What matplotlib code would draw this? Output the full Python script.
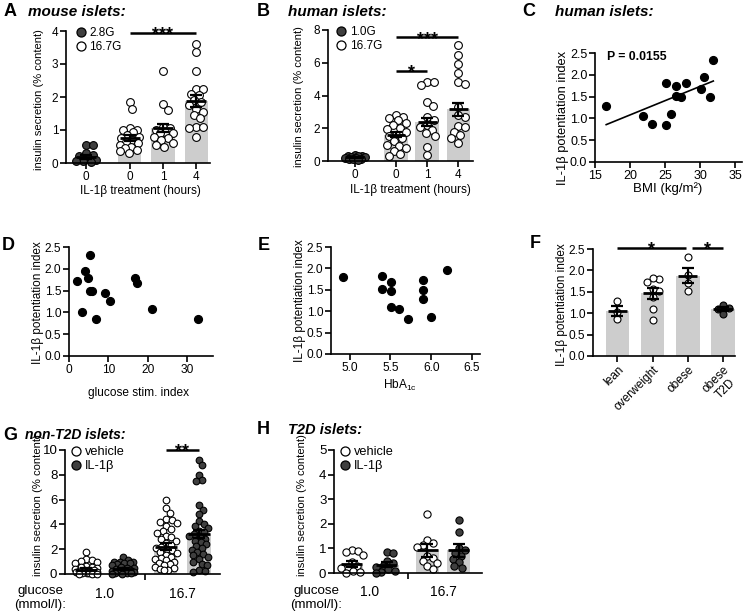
import numpy as np
import matplotlib
matplotlib.use('Agg')
import matplotlib.pyplot as plt
from matplotlib.lines import Line2D

plt.rcParams['font.family'] = ['Liberation Sans', 'DejaVu Sans']
plt.rcParams['mathtext.fontset'] = 'custom'
plt.rcParams['mathtext.rm'] = 'Liberation Sans'
plt.rcParams['mathtext.it'] = 'Liberation Sans:italic'
plt.rcParams['mathtext.bf'] = 'Liberation Sans:bold'

# ---------------- DATA ----------------
# Panel A: mouse islets
A_labels = ['0', '0', '1', '4']
A_filled = [True, False, False, False]
A_mean = [0.18, 0.76, 1.07, 1.88]
A_sem = [0.07, 0.09, 0.12, 0.18]
A_dark0 = [0.55, 0.55, 0.3, 0.25, 0.2, 0.15, 0.1, 0.05, 0.05, 0.02]
A_open0 = [1.85, 1.65, 1.05, 1.0, 1.0, 0.95, 0.85, 0.8, 0.75, 0.7, 0.65, 0.6, 0.55, 0.5, 0.45, 0.4, 0.35, 0.3]
A_open1 = [2.8, 1.78, 1.62, 1.1, 1.05, 1.0, 0.95, 0.9, 0.9, 0.8, 0.75, 0.7, 0.6, 0.55, 0.5]
A_open4 = [3.62, 3.35, 2.78, 2.25, 2.25, 2.1, 2.05, 1.9, 1.85, 1.75, 1.65, 1.55, 1.45, 1.35, 1.1, 1.1, 1.05, 0.8]
A_legend = ['2.8G', '16.7G']

# Panel B: human islets
B_labels = ['0', '0', '1', '4']
B_filled = [True, False, False, False]
B_mean = [0.22, 1.6, 2.4, 3.15]
B_sem = [0.03, 0.15, 0.25, 0.4]
B_dark0 = [0.35, 0.32, 0.3, 0.28, 0.25, 0.22, 0.2, 0.18, 0.15, 0.12, 0.1, 0.08]
B_open0 = [2.8, 2.7, 2.6, 2.5, 2.35, 2.2, 2.0, 1.95, 1.8, 1.6, 1.5, 1.4, 1.2, 1.0, 0.9, 0.8, 0.6, 0.4, 0.3]
B_open1 = [4.85, 4.85, 4.64, 3.6, 3.36, 2.7, 2.5, 2.2, 2.1, 1.9, 1.7, 1.5, 0.88, 0.37]
B_open4 = [7.1, 6.5, 5.95, 5.4, 4.8, 4.7, 3.3, 2.8, 2.7, 2.15, 2.1, 1.8, 1.6, 1.4, 1.1]
B_legend = ['1.0G', '16.7G']

# Panel C: BMI vs IL-1b potentiation index
C_bmi = [16.6, 21.8, 23.1, 25.1, 25.2, 25.8, 26.5, 26.5, 27.3, 28.0, 30.1, 30.5, 31.4, 31.9]
C_idx = [1.29, 1.05, 0.87, 1.81, 0.84, 1.10, 1.74, 1.52, 1.49, 1.81, 1.68, 1.95, 1.50, 2.33]
C_ptext = 'P = 0.0155'

# Panel D: glucose stim index vs potentiation index
D_gsi = [2.0, 3.4, 4.0, 4.7, 5.3, 5.2, 5.9, 6.8, 9.0, 10.5, 16.7, 17.2, 21.0, 32.7]
D_idx = [1.72, 1.02, 1.94, 1.79, 2.32, 1.49, 1.49, 0.85, 1.45, 1.26, 1.80, 1.67, 1.08, 0.84]

# Panel E: HbA1c vs potentiation index
E_hba = [4.92, 5.40, 5.40, 5.51, 5.51, 5.51, 5.61, 5.71, 5.90, 5.90, 5.90, 6.00, 6.20]
E_idx = [1.81, 1.82, 1.52, 1.69, 1.48, 1.10, 1.04, 0.81, 1.74, 1.50, 1.28, 0.86, 1.96]

# Panel F: BMI categories
F_labels = ['lean', 'overweight', 'obese', 'obese\nT2D']
F_filled = [False, False, False, True]
F_mean = [1.05, 1.47, 1.88, 1.10]
F_sem = [0.12, 0.13, 0.17, 0.04]
F_lean = [1.29, 0.86, 1.03]
F_over = [1.80, 1.83, 1.74, 1.53, 1.56, 1.39, 1.10, 0.84]
F_obese = [2.32, 1.90, 1.52, 1.70]
F_t2d = [1.20, 1.12, 1.10, 0.98]

# Panel G: non-T2D islets
GH_glucose = ['1.0', '16.7']
GH_legend = ['vehicle', 'IL-1β']
GH_filled = [False, True, False, True]
G_mean = [0.35, 0.40, 2.2, 3.25]
G_sem = [0.10, 0.08, 0.27, 0.33]
G_veh1 = [1.8, 1.25, 1.1, 1.05, 0.95, 0.9, 0.65, 0.6, 0.55, 0.5, 0.4, 0.35, 0.3, 0.3, 0.25, 0.2, 0.2, 0.15, 0.1, 0.1, 0.05, 0.05, 0.0, 0.0, 0.0]
G_il1 = [1.4, 1.1, 1.0, 1.0, 0.95, 0.9, 0.85, 0.8, 0.7, 0.6, 0.5, 0.45, 0.4, 0.35, 0.3, 0.25, 0.2, 0.15, 0.1, 0.1, 0.05, 0.0, 0.0]
G_veh16 = [5.95, 5.3, 4.95, 4.4, 4.35, 4.2, 4.15, 3.9, 3.65, 3.5, 3.3, 3.1, 3.0, 2.8, 2.7, 2.5, 2.35, 2.2, 2.1, 2.0, 1.9, 1.8, 1.7, 1.55, 1.4, 1.3, 1.2, 1.1, 1.0, 0.9, 0.8, 0.7, 0.6, 0.5, 0.4, 0.35, 0.3]
G_il16 = [9.2, 8.8, 7.95, 7.55, 7.5, 5.55, 5.2, 4.8, 4.25, 4.0, 3.9, 3.7, 3.5, 3.35, 3.2, 3.1, 3.0, 2.85, 2.7, 2.55, 2.4, 2.25, 2.1, 1.95, 1.8, 1.6, 1.5, 1.35, 1.2, 1.0, 0.8, 0.7, 0.3, 0.25, 0.2]

# Panel H: T2D islets
H_mean = [0.36, 0.34, 0.92, 0.92]
H_sem = [0.11, 0.11, 0.25, 0.27]
H_veh1 = [0.95, 0.9, 0.85, 0.75, 0.45, 0.3, 0.25, 0.2, 0.1, 0.05, 0.0]
H_il1 = [0.85, 0.82, 0.5, 0.4, 0.3, 0.25, 0.15, 0.1, 0.05, 0.0]
H_veh16 = [2.39, 1.35, 1.22, 1.15, 1.05, 0.68, 0.6, 0.47, 0.4, 0.27, 0.16]
H_il16 = [2.16, 1.65, 1.01, 0.95, 0.8, 0.68, 0.55, 0.43, 0.27, 0.2]

# ---------------- LAYOUT / STYLE ----------------
W, H = 749, 614
fig = plt.figure(figsize=(W / 100, H / 100), dpi=100)
BAR = '#cdcdcd'
DARK = '#3f3f3f'
LW = 1.2


def add_ax(l, t, r, b):
    return fig.add_axes([l / W, 1 - b / H, (r - l) / W, (b - t) / H])


def style(ax, fs):
    for s in ['top', 'right']:
        ax.spines[s].set_visible(False)
    for s in ['left', 'bottom']:
        ax.spines[s].set_linewidth(LW)
    ax.tick_params(direction='out', length=4, width=LW, labelsize=fs, pad=1.5)


def ftext(x, y, s, **kw):
    kw.setdefault('ha', 'center')
    kw.setdefault('va', 'center')
    kw.setdefault('fontsize', 8.5)
    fig.text(x / W, 1 - y / H, s, **kw)


def panel(x, y, letter, title=None, tx=None, tfs=11):
    ftext(x, y, letter, ha='left', fontsize=13, fontweight='bold')
    if title:
        ftext(tx, y, title, ha='left', fontsize=tfs, fontweight='bold', style='italic')


def swarm(ax, values, xc, diam_px, half_w_px):
    tr = ax.transData
    vals = np.asarray(values, float)
    order = np.argsort(-vals)
    xc_px = tr.transform((xc, 0))[0]
    ys_px = tr.transform(np.column_stack([np.full(len(vals), xc), vals]))[:, 1]
    cands = sorted(np.arange(-half_w_px, half_w_px + 0.01, 0.5), key=lambda v: (abs(v), -v))
    placed = []
    xs = np.zeros(len(vals))
    for i in order:
        y = ys_px[i]
        chosen, best, bestd = None, 0.0, -1.0
        for c in cands:
            if not placed:
                chosen = c
                break
            d = min(np.hypot(c - px, y - py) for px, py in placed)
            if d >= diam_px:
                chosen = c
                break
            if d > bestd:
                bestd, best = d, c
        if chosen is None:
            chosen = best
        placed.append((chosen, y))
        xs[i] = xc_px + chosen
    return tr.inverted().transform(np.column_stack([xs, ys_px]))[:, 0]


def bar_dots(ax, pos, means, sems, groups, filled, width, ms, mean_w, cap, diam_px, half_w_px):
    ax.bar(pos, means, width=width, color=BAR, zorder=1)
    for p, vals, f in zip(pos, groups, filled):
        xs = swarm(ax, vals, p, diam_px, half_w_px)
        ax.plot(xs, vals, 'o', ms=ms, mfc=DARK if f else 'white', mec='black', mew=0.8,
                zorder=2, clip_on=False, ls='')
    for p, m, s in zip(pos, means, sems):
        ax.plot([p - mean_w / 2, p + mean_w / 2], [m, m], color='black', lw=2.0, zorder=3,
                solid_capstyle='butt')
        ax.errorbar([p], [m], yerr=[s], fmt='none', ecolor='black', elinewidth=1.6,
                    capsize=cap, capthick=1.6, zorder=3)


def sig(ax, x1, x2, y, text):
    ax.plot([x1, x2], [y, y], color='black', lw=1.8, clip_on=False, solid_capstyle='butt', zorder=4)
    ax.annotate(text, xy=((x1 + x2) / 2, y), xytext=(0, -4.5), textcoords='offset points',
                ha='center', va='baseline', fontsize=13, fontweight='bold', annotation_clip=False)


def legend(ax, labels, fills, anchor, ms=6.5, fs=8.5):
    hs = [Line2D([], [], marker='o', ls='', ms=ms, mfc=DARK if f else 'white', mec='black', mew=0.9)
          for f in fills]
    ax.legend(hs, labels, loc='upper left', bbox_to_anchor=anchor, frameon=False, fontsize=fs,
              handlelength=0.8, handletextpad=0.3, labelspacing=0.15, borderpad=0, borderaxespad=0)


IDX_T = [0, 0.5, 1.0, 1.5, 2.0, 2.5]
IDX_L = ['0.0', '0.5', '1.0', '1.5', '2.0', '2.5']

# ---------------- Panel A ----------------
axA = add_ax(66, 31, 210, 163)
style(axA, 8.5)
A_pos = [0, 1.33, 2.33, 3.33]
axA.set_xlim(-0.6, 3.75)
axA.set_ylim(0, 4)
axA.set_yticks([0, 1, 2, 3, 4])
axA.set_xticks(A_pos, A_labels)
bar_dots(axA, A_pos, A_mean, A_sem, [A_dark0, A_open0, A_open1, A_open4], A_filled,
         0.7, 5.6, 0.6, 4.2, 7.0, 10)
sig(axA, A_pos[1], A_pos[3], 3.94, '***')
legend(axA, A_legend, [True, False], (0.07, 1.03))
ftext(39, 100, 'insulin secretion (% content)', rotation=90, fontsize=8)
ftext(140, 191, 'IL-1β treatment (hours)')
panel(4, 12, 'A', 'mouse islets:', 28)

# ---------------- Panel B ----------------
axB = add_ax(328, 30, 473, 161)
style(axB, 8.5)
B_pos = [0, 1.33, 2.33, 3.33]
axB.set_xlim(-0.85, 3.8)
axB.set_ylim(0, 8)
axB.set_yticks([0, 2, 4, 6, 8])
axB.set_xticks(B_pos, B_labels)
bar_dots(axB, B_pos, B_mean, B_sem, [B_dark0, B_open0, B_open1, B_open4], B_filled,
         0.75, 5.6, 0.6, 4.2, 7.0, 10)
sig(axB, B_pos[1], B_pos[2], 5.5, '*')
sig(axB, B_pos[1], B_pos[3], 7.55, '***')
legend(axB, B_legend, [True, False], (0.06, 1.03))
ftext(299, 97, 'insulin secretion (% content)', rotation=90, fontsize=8)
ftext(410, 190, 'IL-1β treatment (hours)')
panel(257, 12, 'B', 'human islets:', 288)

# ---------------- Panel C ----------------
axC = add_ax(595, 53, 742, 162)
style(axC, 9)
axC.set_xlim(15, 36)
axC.set_ylim(0, 2.5)
axC.set_xticks([15, 20, 25, 30, 35])
axC.set_yticks(IDX_T, IDX_L)
axC.plot(C_bmi, C_idx, 'o', ms=5.6, color='black', ls='', clip_on=False)
k, b0 = np.polyfit(C_bmi, C_idx, 1)
xx = np.array([min(C_bmi), max(C_bmi)])
axC.plot(xx, k * xx + b0, color='black', lw=1.2)
axC.text(0.08, 0.96, C_ptext, transform=axC.transAxes, fontsize=8.8, fontweight='bold',
         ha='left', va='center')
ftext(563, 118, 'IL-1β potentiation index', rotation=90, fontsize=9.3)
ftext(668, 189, 'BMI (kg/m²)', fontsize=9.5)
panel(522, 12, 'C', 'human islets:', 555)

# ---------------- Panel D ----------------
axD = add_ax(69, 247, 213, 356)
style(axD, 8.6)
axD.set_xlim(0, 36.5)
axD.set_ylim(0, 2.5)
axD.set_xticks([0, 10, 20, 30])
axD.set_yticks(IDX_T, IDX_L)
axD.plot(D_gsi, D_idx, 'o', ms=5.6, color='black', ls='', clip_on=False)
ftext(38, 303, 'IL-1β potentiation index', rotation=90)
ftext(139, 393, 'glucose stim. index', fontsize=8.6)
panel(2, 245, 'D')

# ---------------- Panel E ----------------
axE = add_ax(331, 247, 480, 354)
style(axE, 8.6)
axE.set_xlim(4.77, 6.6)
axE.set_ylim(0, 2.5)
axE.set_xticks([5.0, 5.5, 6.0, 6.5], ['5.0', '5.5', '6.0', '6.5'])
axE.set_yticks(IDX_T, IDX_L)
axE.plot(E_hba, E_idx, 'o', ms=5.6, color='black', ls='', clip_on=False)
ftext(300, 301, 'IL-1β potentiation index', rotation=90)
ftext(400, 385, r'HbA$_{\mathrm{1c}}$', fontsize=8.6)
panel(258, 245, 'E')

# ---------------- Panel F ----------------
axF = add_ax(593, 249, 735, 356)
style(axF, 8.6)
F_pos = [0, 1, 2, 3]
axF.set_xlim(-0.69, 3.34)
axF.set_ylim(0, 2.5)
axF.set_yticks(IDX_T, IDX_L)
axF.set_xticks(F_pos)
axF.set_xticklabels(F_labels, rotation=45, ha='right', rotation_mode='anchor', ma='center')
bar_dots(axF, F_pos, F_mean, F_sem, [F_lean, F_over, F_obese, F_t2d], F_filled,
         0.67, 5.0, 0.55, 4.0, 6.5, 10)
sig(axF, F_pos[0], F_pos[2] - 0.05, 2.52, '*')
sig(axF, F_pos[2] + 0.12, F_pos[3], 2.52, '*')
ftext(562, 305, 'IL-1β potentiation index', rotation=90)
panel(530, 243, 'F')


# ---------------- Panels G / H ----------------
def gh_axes(ax, ymax, yticks):
    style(ax, 9.5)
    ax.set_ylim(0, ymax)
    ax.set_yticks(yticks)
    ax.set_xticks([1.6], [''])
    ax.set_xticks([0.5, 2.6], GH_glucose, minor=True)
    ax.tick_params(axis='x', which='minor', length=0, pad=9, labelsize=10)


GH_pos = [0, 1, 2.15, 3.05]

axG = add_ax(65, 450, 220, 574)
axG.set_xlim(-0.57, 3.62)
gh_axes(axG, 10, [0, 2, 4, 6, 8, 10])
bar_dots(axG, GH_pos, G_mean, G_sem, [G_veh1, G_il1, G_veh16, G_il16], GH_filled,
         0.63, 4.8, 0.6, 4.2, 5.6, 11)
sig(axG, GH_pos[2], GH_pos[3], 10.0, '**')
legend(axG, GH_legend, [False, True], (0.04, 1.03), ms=6.5, fs=9.2)
ftext(38, 505, 'insulin secretion (% content)', rotation=90, fontsize=8.1)
ftext(40, 598, 'glucose\n(mmol/l):', fontsize=9.6, linespacing=1.2)
panel(3, 435, 'G', 'non-T2D islets:', 25, tfs=10)

axH = add_ax(334, 450, 482, 573)
axH.set_xlim(-0.51, 3.71)
gh_axes(axH, 5, [0, 1, 2, 3, 4, 5])
bar_dots(axH, GH_pos, H_mean, H_sem, [H_veh1, H_il1, H_veh16, H_il16], GH_filled,
         0.66, 5.2, 0.6, 4.2, 6.3, 11)
legend(axH, GH_legend, [False, True], (0.04, 1.03), ms=6.5, fs=9.2)
ftext(302, 505, 'insulin secretion (% content)', rotation=90, fontsize=8.1)
ftext(316, 598, 'glucose\n(mmol/l):', fontsize=9.6, linespacing=1.2)
panel(257, 430, 'H', 'T2D islets:', 288, tfs=10.5)

fig.savefig('out.png', dpi=100)
